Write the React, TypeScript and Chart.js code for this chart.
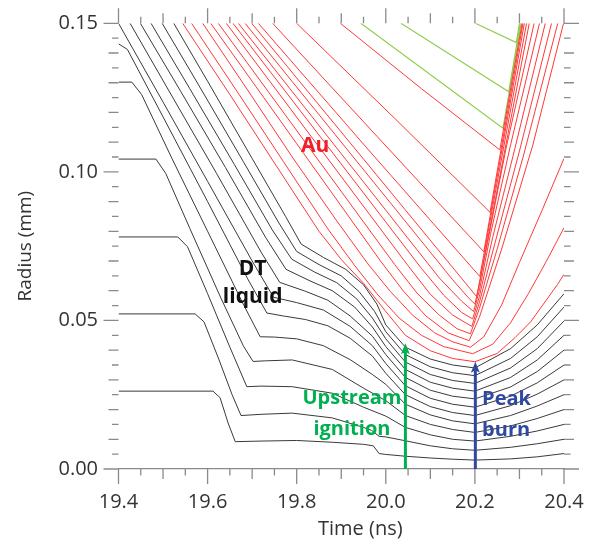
import React, { useEffect, useRef } from 'react';
import { Chart, registerables } from 'chart.js';

Chart.register(...registerables);

type Pt = [number, number];

// ---- axes ----
const xRange = [19.4, 20.4];
const yRange = [0, 0.15];
const xLabelValues = [19.4, 19.6, 19.8, 20.0, 20.2, 20.4];
const yLabelValues = [0.0, 0.05, 0.1, 0.15];

// ---- DT (black) Lagrangian lines: [time ns, radius mm] ----
const dt0: Pt[] = [[19.40,.0262],[19.612,.0262],[19.628,.0240],[19.646,.0155],[19.662,.0092],[19.72,.0094],[19.80,.0096],[19.88,.0090],[19.95,.0083],[19.972,.0078],[19.985,.0052],[20.00,.0049],[20.044,.0043],[20.10,.0037],[20.15,.0033],[20.20,.0030],[20.28,.0034],[20.34,.0041],[20.40,.0052]];
const dt1: Pt[] = [[19.40,.0522],[19.572,.0522],[19.592,.0495],[19.625,.0370],[19.655,.0250],[19.675,.0180],[19.72,.0184],[19.79,.0188],[19.88,.0172],[19.95,.0140],[19.968,.0130],[19.985,.0110],[20.00,.0108],[20.044,.0095],[20.10,.0078],[20.15,.0068],[20.20,.0063],[20.28,.0073],[20.34,.0085],[20.40,.0100]];
const dt2: Pt[] = [[19.40,.0781],[19.533,.0781],[19.555,.0748],[19.60,.0590],[19.65,.0410],[19.688,.0277],[19.72,.0279],[19.79,.0277],[19.88,.0255],[19.95,.0208],[20.00,.0178],[20.044,.0140],[20.10,.0115],[20.15,.0100],[20.20,.0094],[20.28,.0110],[20.34,.0128],[20.40,.0150]];
const dt3: Pt[] = [[19.40,.1043],[19.484,.1043],[19.506,.0995],[19.56,.0810],[19.63,.0575],[19.68,.0415],[19.702,.0362],[19.73,.0364],[19.79,.0367],[19.88,.0335],[19.95,.0272],[20.00,.0230],[20.044,.0180],[20.10,.0150],[20.15,.0133],[20.20,.0123],[20.28,.0145],[20.34,.0170],[20.40,.0200]];
const dt4: Pt[] = [[19.40,.1302],[19.430,.1302],[19.452,.1260],[19.52,.1045],[19.60,.0800],[19.68,.0555],[19.718,.0445],[19.75,.0444],[19.80,.0438],[19.86,.0415],[19.92,.0368],[19.97,.0318],[20.00,.0285],[20.044,.0218],[20.10,.0182],[20.15,.0162],[20.20,.0152],[20.28,.0180],[20.34,.0212],[20.40,.0250]];
const dt5: Pt[] = [[19.40,.1431],[19.42,.1412],[19.50,.1185],[19.60,.0900],[19.69,.0640],[19.733,.0525],[19.77,.0515],[19.82,.0503],[19.87,.0482],[19.92,.0440],[19.97,.0380],[20.00,.0322],[20.044,.0250],[20.10,.0210],[20.15,.0190],[20.20,.0180],[20.28,.0213],[20.34,.0252],[20.40,.0300]];
const dt6: Pt[] = [[19.40,.150],[19.50,.1235],[19.60,.0968],[19.70,.0700],[19.748,.0578],[19.80,.0560],[19.86,.0535],[19.92,.0480],[19.97,.0415],[20.00,.0355],[20.044,.0280],[20.10,.0238],[20.15,.0218],[20.20,.0208],[20.28,.0245],[20.34,.0290],[20.40,.0350]];
const dt7: Pt[] = [[19.426,.150],[19.52,.1255],[19.62,.0995],[19.72,.0730],[19.762,.0628],[19.82,.0598],[19.87,.0568],[19.92,.0515],[19.97,.0447],[20.00,.0385],[20.044,.0308],[20.10,.0265],[20.15,.0245],[20.20,.0236],[20.28,.0276],[20.34,.0328],[20.40,.0400]];
const dt8: Pt[] = [[19.449,.150],[19.54,.1270],[19.64,.1015],[19.73,.0780],[19.776,.0672],[19.83,.0633],[19.88,.0600],[19.93,.0545],[19.97,.0478],[20.00,.0412],[20.044,.0335],[20.10,.0292],[20.15,.0272],[20.20,.0262],[20.28,.0308],[20.34,.0367],[20.40,.0450]];
const dt9: Pt[] = [[19.473,.150],[19.56,.1280],[19.66,.1025],[19.745,.0805],[19.789,.0706],[19.84,.0663],[19.89,.0627],[19.935,.0572],[19.97,.0508],[20.00,.0438],[20.044,.0360],[20.10,.0318],[20.15,.0298],[20.20,.0288],[20.28,.0340],[20.34,.0405],[20.40,.0498]];
const dt10: Pt[] = [[19.498,.150],[19.58,.1292],[19.68,.1035],[19.76,.0828],[19.80,.0732],[19.85,.0688],[19.90,.0650],[19.94,.0597],[19.975,.0530],[20.00,.0462],[20.044,.0385],[20.10,.0344],[20.15,.0324],[20.20,.0314],[20.28,.0372],[20.34,.0445],[20.40,.0545]];
const dt11: Pt[] = [[19.524,.150],[19.60,.1305],[19.70,.1045],[19.775,.0850],[19.81,.0757],[19.86,.0712],[19.91,.0672],[19.95,.0620],[19.98,.0555],[20.00,.0485],[20.044,.0410],[20.10,.0370],[20.15,.0350],[20.20,.0340],[20.28,.0405],[20.34,.0485],[20.40,.0590]];

// ---- Au (red) lines ----
const au0: Pt[] = [[19.544,.150],[19.65,.1260],[19.75,.1030],[19.85,.0800],[19.90,.0705],[19.95,.0625],[20.00,.0530],[20.044,.0450],[20.10,.0398],[20.15,.0372],[20.20,.0361],[20.25,.0389],[20.29,.0442],[20.325,.0495],[20.36,.0568],[20.385,.0620],[20.40,.0655]];
const au1: Pt[] = [[19.564,.150],[19.67,.1262],[19.77,.1035],[19.87,.0808],[19.93,.0685],[19.98,.0590],[20.03,.0508],[20.08,.0450],[20.13,.0412],[20.195,.0388],[20.24,.0420],[20.28,.0492],[20.32,.0590],[20.36,.0698],[20.40,.0812]];
const au2: Pt[] = [[19.589,.150],[19.69,.1275],[19.79,.1050],[19.89,.0835],[19.96,.0690],[20.01,.0598],[20.06,.0518],[20.11,.0458],[20.15,.0428],[20.19,.0410],[20.22,.0445],[20.26,.0552],[20.30,.0695],[20.35,.0868],[20.40,.1045]];
const au3: Pt[] = [[19.607,.150],[19.80,.1095],[19.99,.0696],[20.04,.0598],[20.09,.0515],[20.14,.0458],[20.187,.0432],[20.21,.0510],[20.26,.0740],[20.33,.1090],[20.399,.150]];
const au4: Pt[] = [[19.624,.150],[19.82,.1098],[20.02,.0688],[20.07,.0592],[20.12,.0518],[20.16,.0472],[20.19,.0455],[20.21,.0540],[20.25,.0740],[20.31,.1060],[20.386,.150]];
const au5: Pt[] = [[19.642,.150],[19.85,.1084],[20.05,.0684],[20.10,.0588],[20.15,.0518],[20.193,.0480],[20.21,.0560],[20.245,.0760],[20.30,.1070],[20.372,.150]];
const au6: Pt[] = [[19.657,.150],[19.87,.1085],[20.08,.0675],[20.13,.0585],[20.17,.0527],[20.195,.0505],[20.21,.0580],[20.24,.0780],[20.29,.1080],[20.358,.150]];
const au7: Pt[] = [[19.669,.150],[19.90,.1061],[20.12,.0643],[20.17,.0565],[20.197,.0530],[20.21,.0600],[20.235,.0790],[20.28,.1090],[20.345,.150]];
const au8: Pt[] = [[19.684,.150],[19.92,.1063],[20.15,.0637],[20.185,.0577],[20.200,.0555],[20.21,.0620],[20.23,.0775],[20.27,.1080],[20.333,.150]];
const au9: Pt[] = [[19.699,.150],[19.95,.1043],[20.204,.0580],[20.322,.150]];
const au10: Pt[] = [[19.714,.150],[19.96,.1076],[20.211,.0648],[20.316,.150]];
const au11: Pt[] = [[19.746,.150],[19.98,.1120],[20.220,.0731],[20.311,.150]];
const au12: Pt[] = [[19.800,.150],[20.02,.1180],[20.234,.0864],[20.308,.150]];
const au13: Pt[] = [[19.898,.150],[20.08,.1280],[20.256,.1074],[20.306,.150]];

// ---- outer (green) lines ----
const gr0: Pt[] = [[19.944,.150],[20.263,.1147],[20.304,.150]];
const gr1: Pt[] = [[20.034,.150],[20.276,.1270],[20.302,.150]];
const gr2: Pt[] = [[20.201,.150],[20.293,.1435],[20.300,.150]];

const dtLines = [dt0, dt1, dt2, dt3, dt4, dt5, dt6, dt7, dt8, dt9, dt10, dt11];
const auLines = [au0, au1, au2, au3, au4, au5, au6, au7, au8, au9, au10, au11, au12, au13];
const outerLines = [gr0, gr1, gr2];

// ---- annotations ----
const arrows = [
  { t: 20.044, r: 0.0423, color: '#00b050' },
  { t: 20.201, r: 0.0361, color: '#3049a0' },
];
const texts = [
  { lines: ['Au'], t: 19.8416, r: [0.1068], color: '#f0202a', size: 21, align: 'center' },
  { lines: ['DT', 'liquid'], t: 19.7011, r: [0.0653, 0.0559], color: '#111111', size: 21, align: 'center' },
  { lines: ['Upstream', 'ignition'], t: 19.924, r: [0.0219, 0.0115], color: '#00b050', size: 20, align: 'center' },
  { lines: ['Peak', 'burn'], t: 20.2162, r: [0.0215, 0.0112], color: '#3049a0', size: 20, align: 'left' },
];
const xTitle = { text: 'Time (ns)', t: 19.9427 };

const FONT = "'Open Sans', sans-serif";
const TICK_COLOR = '#8a8a8a';
const LABEL_COLOR = '#333333';

const isMult = (v: number, s: number) => Math.abs(v / s - Math.round(v / s)) < 1e-6;
const near = (v: number, arr: number[]) => arr.some((a) => Math.abs(a - v) < 1e-6);

const tickMarks = {
  id: 'tickMarks',
  afterDraw(chart: any) {
    const { ctx, chartArea: a, scales } = chart;
    const xs = scales.x;
    const ys = scales.y;
    ctx.save();
    ctx.strokeStyle = TICK_COLOR;
    ctx.lineWidth = 1.3;
    ctx.beginPath();
    xs.ticks.forEach((tk: any) => {
      const v = tk.value;
      const p = xs.getPixelForValue(v);
      const len = near(v, xLabelValues) ? 15 : isMult(v, 0.1) ? 10 : 6.5;
      ctx.moveTo(p, a.bottom);
      ctx.lineTo(p, a.bottom + len);
      ctx.moveTo(p, a.top);
      ctx.lineTo(p, a.top - len);
    });
    ys.ticks.forEach((tk: any) => {
      const v = tk.value;
      const p = ys.getPixelForValue(v);
      const len = near(v, yLabelValues) ? 15 : isMult(v, 0.01) ? 10 : 6.5;
      ctx.moveTo(a.left, p);
      ctx.lineTo(a.left - len, p);
      ctx.moveTo(a.right, p);
      ctx.lineTo(a.right + len, p);
    });
    ctx.stroke();
    ctx.restore();
  },
};

const annotations = {
  id: 'annotations',
  afterDatasetsDraw(chart: any) {
    const { ctx, chartArea: a, scales } = chart;
    const xs = scales.x;
    const ys = scales.y;
    ctx.save();
    arrows.forEach((ar) => {
      const x = xs.getPixelForValue(ar.t);
      const yTip = ys.getPixelForValue(ar.r);
      const y0 = ys.getPixelForValue(0);
      ctx.strokeStyle = ar.color;
      ctx.fillStyle = ar.color;
      ctx.lineWidth = 3;
      ctx.beginPath();
      ctx.moveTo(x, y0);
      ctx.lineTo(x, yTip + 8);
      ctx.stroke();
      ctx.beginPath();
      ctx.moveTo(x, yTip);
      ctx.lineTo(x - 4.5, yTip + 11);
      ctx.lineTo(x, yTip + 8.5);
      ctx.lineTo(x + 4.5, yTip + 11);
      ctx.closePath();
      ctx.fill();
    });
    texts.forEach((tx) => {
      ctx.fillStyle = tx.color;
      ctx.font = `bold ${tx.size}px ${FONT}`;
      ctx.textAlign = tx.align as CanvasTextAlign;
      ctx.textBaseline = 'alphabetic';
      tx.lines.forEach((line, i) => {
        ctx.fillText(line, xs.getPixelForValue(tx.t), ys.getPixelForValue(tx.r[i]));
      });
    });
    ctx.fillStyle = LABEL_COLOR;
    ctx.font = `20px ${FONT}`;
    ctx.textAlign = 'center';
    ctx.textBaseline = 'alphabetic';
    ctx.fillText(xTitle.text, xs.getPixelForValue(xTitle.t), a.bottom + 66);
    ctx.restore();
  },
};

export default function App() {
  const ref = useRef<HTMLCanvasElement | null>(null);
  useEffect(() => {
    if (!ref.current) return;
    const mk = (pts: Pt[], color: string, w: number) => ({
      data: pts.map(([x, y]) => ({ x, y })),
      borderColor: color,
      borderWidth: w,
      pointRadius: 0,
      fill: false,
      tension: 0,
    });
    const datasets = [
      ...dtLines.map((l) => mk(l, '#3a3a3a', 1)),
      ...auLines.map((l) => mk(l, '#ff3838', 1)),
      ...outerLines.map((l) => mk(l, '#8fcc4e', 1.2)),
    ];
    const chart = new Chart(ref.current, {
      type: 'line',
      data: { datasets },
      plugins: [tickMarks, annotations],
      options: {
        animation: false,
        responsive: true,
        maintainAspectRatio: false,
        layout: { padding: { top: 23.3, right: 36, left: 0, bottom: 0 } },
        plugins: { legend: { display: false }, tooltip: { enabled: false } },
        events: [],
        scales: {
          x: {
            type: 'linear',
            position: 'bottom',
            min: xRange[0],
            max: xRange[1],
            grid: { drawOnChartArea: false, drawTicks: false },
            border: { display: true, color: TICK_COLOR, width: 1.3 },
            ticks: {
              stepSize: 0.05,
              autoSkip: false,
              maxRotation: 0,
              padding: 21,
              color: LABEL_COLOR,
              font: { family: FONT, size: 20 },
              callback: (v: any) => (near(Number(v), xLabelValues) ? Number(v).toFixed(1) : ''),
            },
            afterFit: (s: any) => { s.height = 73; s.paddingLeft = 0; s.paddingRight = 0; },
          },
          y: {
            type: 'linear',
            position: 'left',
            min: yRange[0],
            max: yRange[1],
            grid: { drawOnChartArea: false, drawTicks: false },
            border: { display: false },
            ticks: {
              stepSize: 0.005,
              autoSkip: false,
              padding: 20.5,
              color: LABEL_COLOR,
              font: { family: FONT, size: 20 },
              callback: (v: any) => (near(Number(v), yLabelValues) ? Number(v).toFixed(2) : ''),
            },
            title: {
              display: true,
              text: 'Radius (mm)',
              color: LABEL_COLOR,
              font: { family: FONT, size: 19 },
              padding: { top: 14, bottom: 0 },
            },
            afterFit: (s: any) => { s.width = 118.5; s.paddingTop = 0; s.paddingBottom = 0; },
          },
        },
      } as any,
    });
    return () => chart.destroy();
  }, []);
  return (
    <div style={{ position: 'absolute', left: 0, top: 0, width: 600, height: 542 }}>
      <canvas ref={ref} />
    </div>
  );
}
